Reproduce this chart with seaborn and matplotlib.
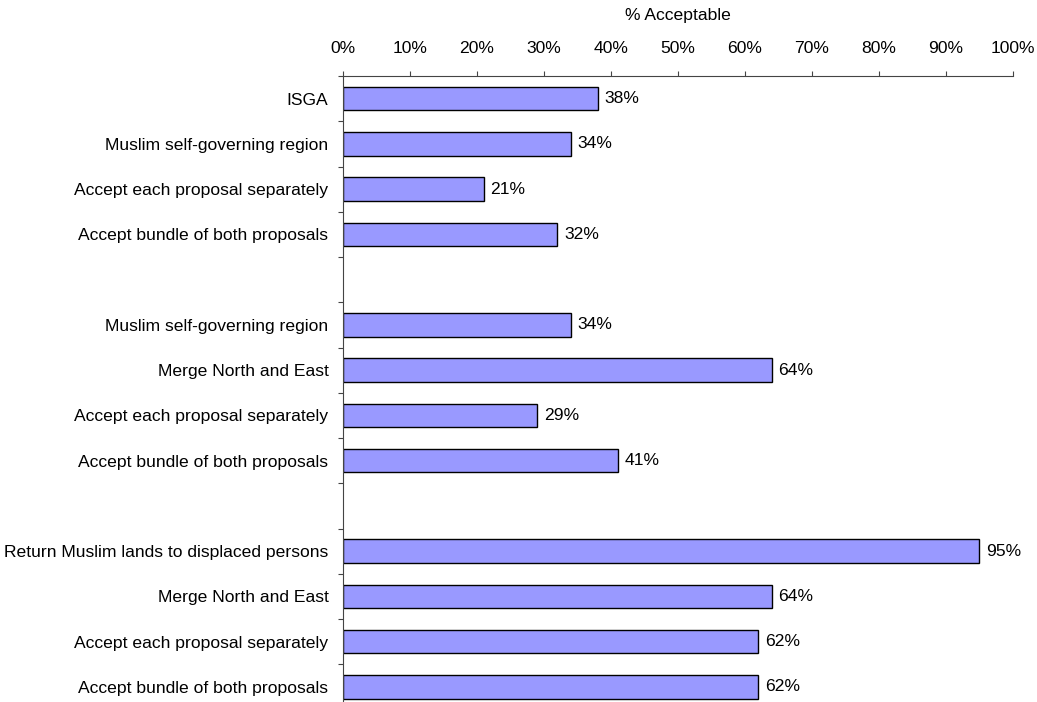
import matplotlib
matplotlib.use("Agg")
import matplotlib.pyplot as plt
import seaborn as sns
import pandas as pd
import numpy as np

labels = ["ISGA", "Muslim self-governing region", "Accept each proposal separately",
          "Accept bundle of both proposals",
          "Muslim self-governing region", "Merge North and East",
          "Accept each proposal separately", "Accept bundle of both proposals",
          "Return Muslim lands to displaced persons", "Merge North and East",
          "Accept each proposal separately", "Accept bundle of both proposals"]
values = [38, 34, 21, 32, 34, 64, 29, 41, 95, 64, 62, 62]
slots = [0, 1, 2, 3, 5, 6, 7, 8, 10, 11, 12, 13]
xticks = [0, 10, 20, 30, 40, 50, 60, 70, 80, 90, 100]

sns.set_theme(style="white")
plt.rcParams['font.family'] = ['Liberation Sans', 'DejaVu Sans']
plt.rcParams['text.color'] = 'black'
plt.rcParams['xtick.color'] = 'black'
plt.rcParams['ytick.color'] = 'black'
plt.rcParams['axes.labelcolor'] = 'black'

FS = 12.6
df = pd.DataFrame({"value": values, "slot": slots, "label": labels})

W, H = 1037, 702
fig = plt.figure(figsize=(W / 100, H / 100), dpi=100)
ax = fig.add_axes([343 / W, -7.6 / H, 670 / W, 633.6 / H])

sns.barplot(data=df, x="value", y="slot", orient="h", native_scale=True,
            color="#9999FF", edgecolor="black", linewidth=1.0, width=0.52,
            saturation=1, ax=ax)

ax.set_xlim(0, 100)
ax.set_ylim(13.5, -0.5)
ax.xaxis.tick_top()
ax.xaxis.set_label_position("top")
ax.set_xticks(xticks)
ax.set_xticklabels([f"{t}%" for t in xticks], fontsize=FS)
ax.set_xlabel("% Acceptable", fontsize=FS, labelpad=15)
ax.set_ylabel("")

# tick marks at category boundaries, labels at centers
ax.set_yticks(np.arange(-0.5, 14.0, 1.0))
ax.set_yticklabels([])
ax.set_yticks(slots, minor=True)
ax.set_yticklabels(labels, minor=True, fontsize=FS)
ax.tick_params(axis="y", which="major", direction="out", length=3.6, width=0.8,
               color="#444444", left=True)
ax.tick_params(axis="y", which="minor", length=0, pad=10.5)
ax.tick_params(axis="x", direction="out", length=3.6, width=0.8, color="#444444",
               top=True, bottom=False, pad=10.6)

for s in ["right", "bottom"]:
    ax.spines[s].set_visible(False)
for s in ["left", "top"]:
    ax.spines[s].set_color("#444444")
    ax.spines[s].set_linewidth(0.8)

for v, s in zip(values, slots):
    ax.text(v + 1.0, s, f"{v}%", va="center", ha="left", fontsize=FS)

fig.savefig("out.png", dpi=100)
